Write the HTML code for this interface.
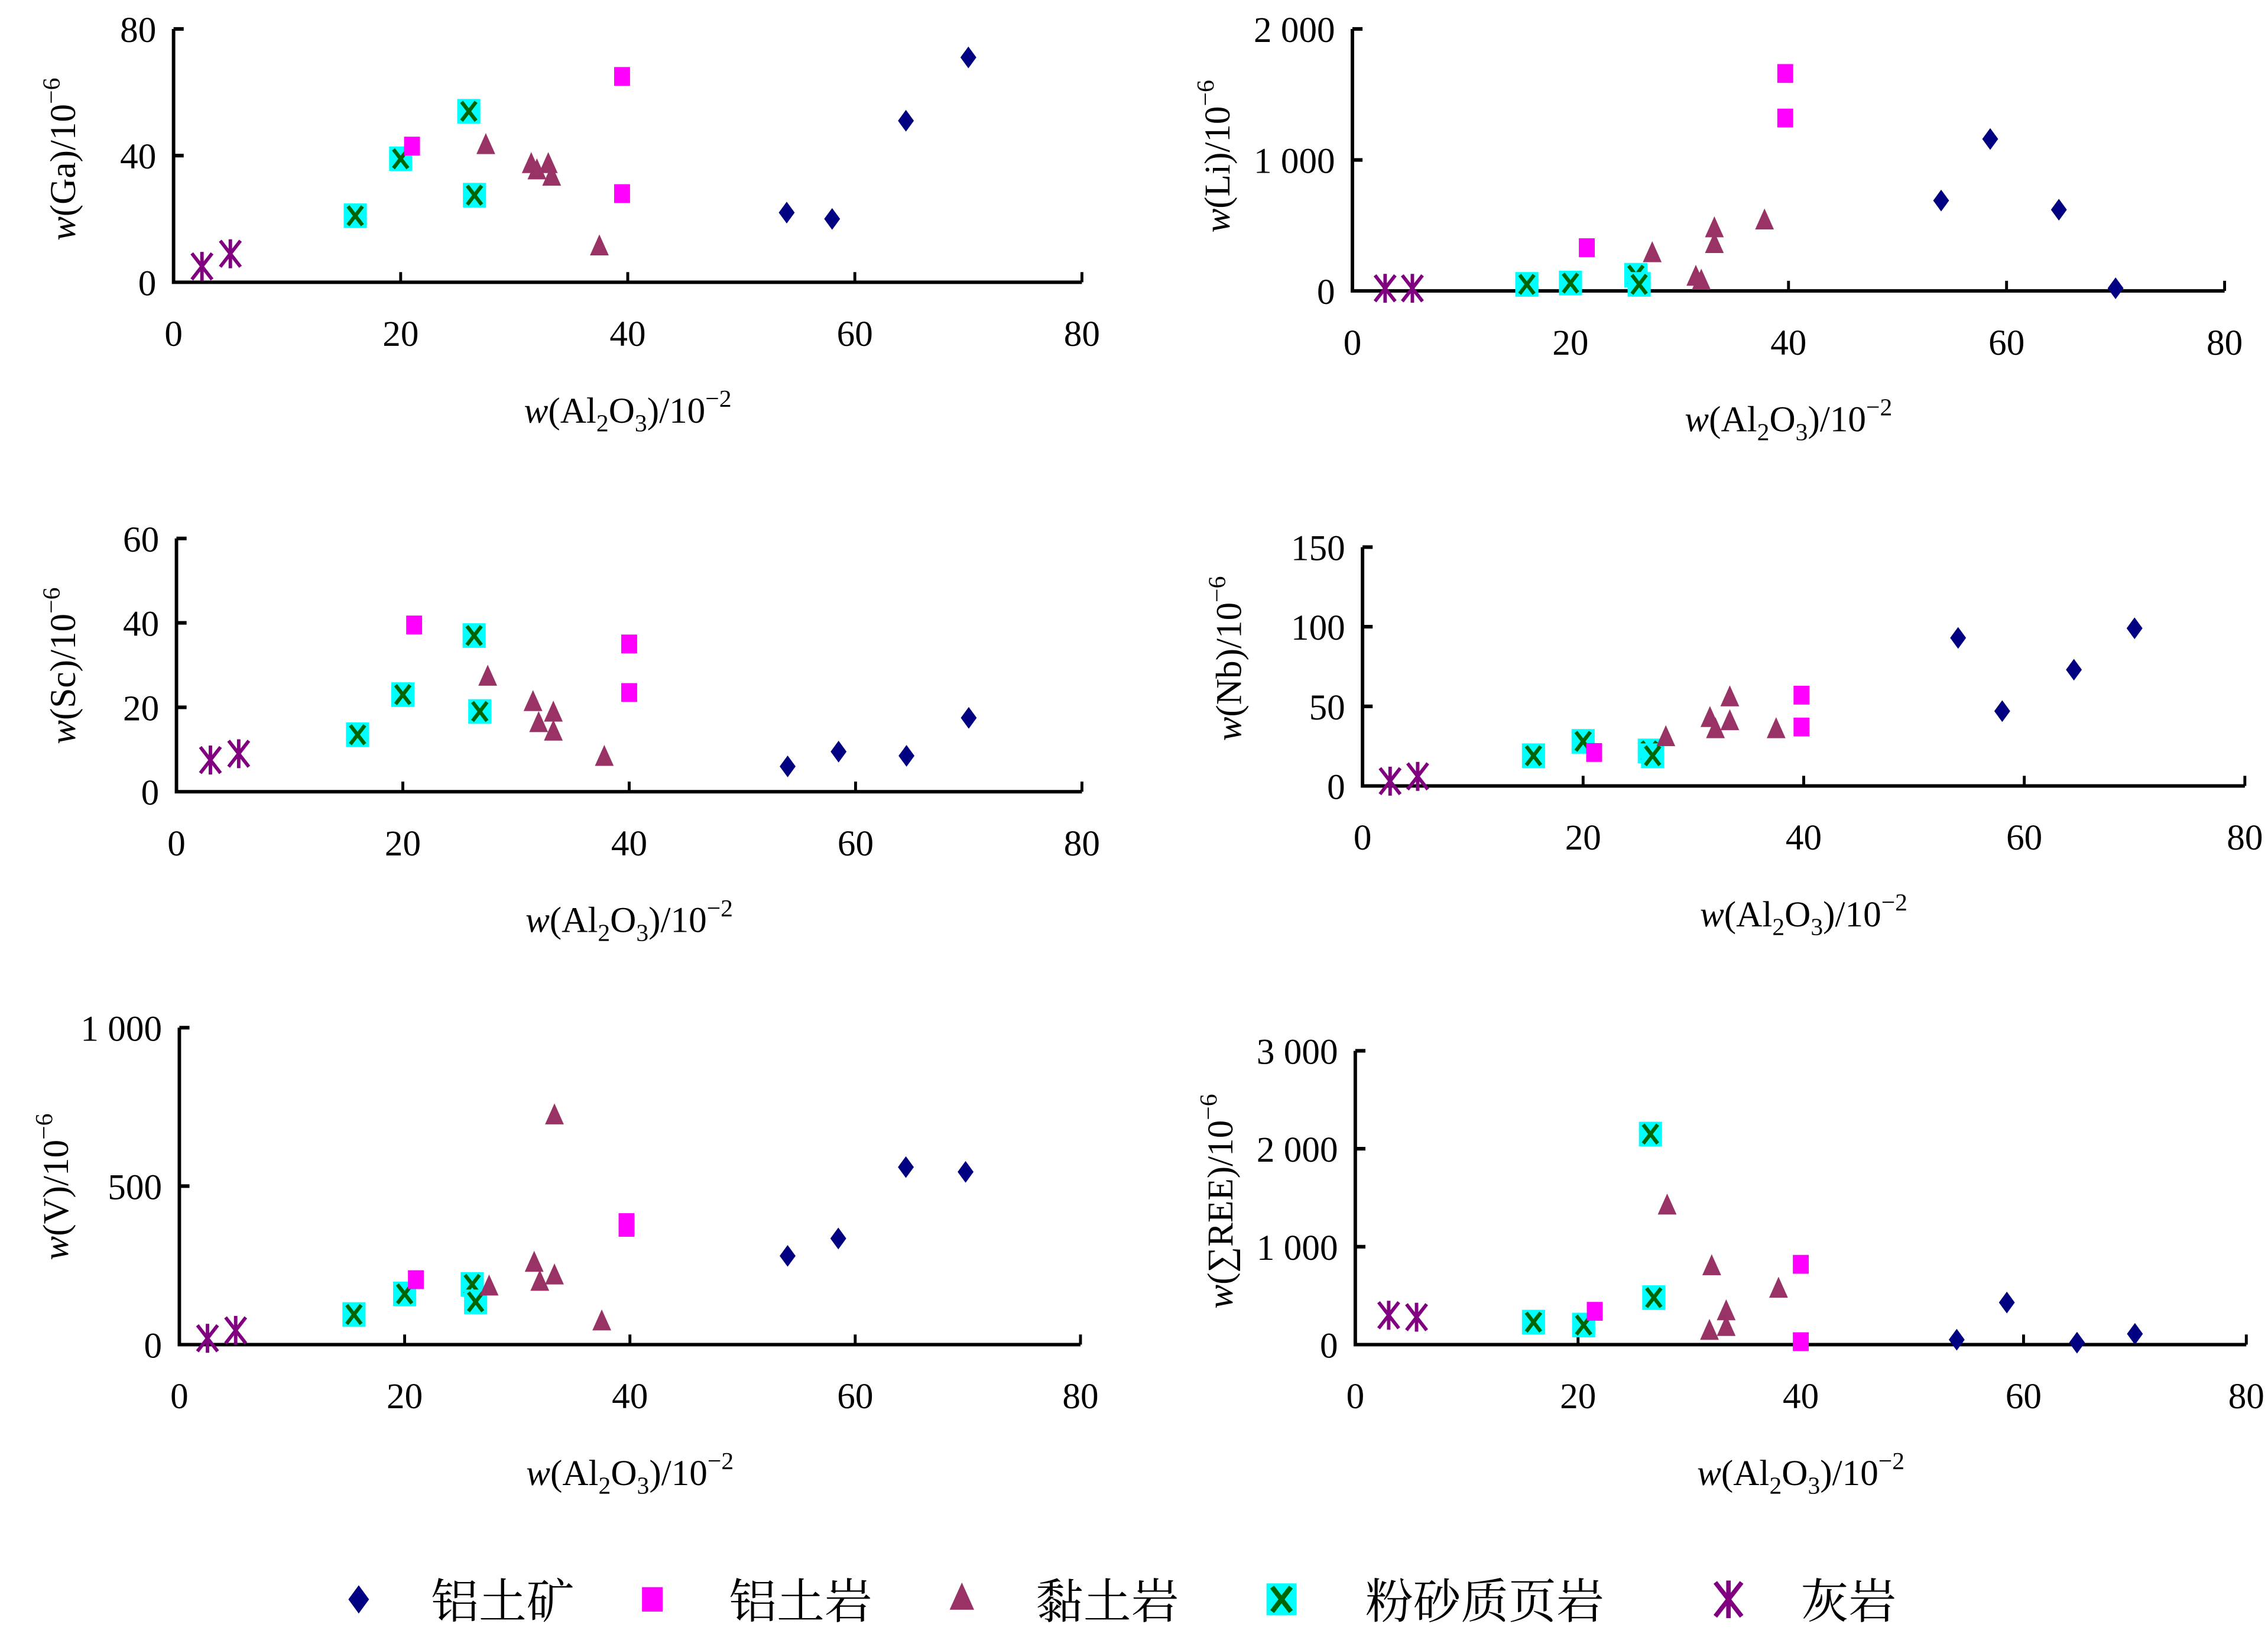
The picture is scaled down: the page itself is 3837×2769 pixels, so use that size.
<!DOCTYPE html>
<html><head><meta charset="utf-8">
<style>
html,body{margin:0;padding:0;background:#fff;}
svg{display:block;}
text{font-family:"Liberation Serif","Noto Serif CJK SC",serif;fill:#000;}
</style></head>
<body>
<svg id="chart" width="3837" height="2769" viewBox="0 0 1568 1131" preserveAspectRatio="none" xmlns="http://www.w3.org/2000/svg"></svg>
<script>
const groupNames = ["铝土矿","铝土岩","黏土岩","粉砂质页岩","灰岩"];
const xTicks = [0,20,40,60,80];

const gaX_bauxite=[54,58,64.5,70], gaY_bauxite=[22,20,51,71];
const gaX_rock=[21,39.5,39.5], gaY_rock=[43,65,28];
const gaX_clay=[27.5,31.5,32,33,33.3,37.5], gaY_clay=[43,37,35,37,33,11];
const gaX_shale=[16,20,26,26.5], gaY_shale=[21,39,54,27.5];
const gaX_lime=[2.5,5], gaY_lime=[5,9];
const gaTicks=[0,40,80], gaTickLabels=["0","40","80"];

const liX_bauxite=[54,58.5,64.8,70], liY_bauxite=[690,1160,620,20];
const liX_rock=[21.5,39.7,39.7], liY_rock=[330,1660,1320];
const liX_clay=[27.5,31.5,32,33.2,33.2,37.8], liY_clay=[280,100,70,470,350,530];
const liX_shale=[16,20,26,26.3], liY_shale=[50,60,120,50];
const liX_lime=[3,5.5], liY_lime=[20,20];
const liTicks=[0,1000,2000], liTickLabels=["0","1 000","2 000"];

const scX_bauxite=[54,58.5,64.5,70], scY_bauxite=[6,9.5,8.5,17.5];
const scX_rock=[21,40,40], scY_rock=[39.5,35,23.5];
const scX_clay=[27.5,31.5,32,33.3,33.3,37.8], scY_clay=[27,21,16,18.5,14,8];
const scX_shale=[16,20,26.3,26.8], scY_shale=[13.5,23,37,19];
const scX_lime=[3,5.5], scY_lime=[7.5,9];
const scTicks=[0,20,40,60], scTickLabels=["0","20","40","60"];

const nbX_bauxite=[54,58,64.5,70], nbY_bauxite=[93,47,73,99];
const nbX_rock=[21,39.8,39.8], nbY_rock=[21,57,37];
const nbX_clay=[27.5,31.5,32,33.3,33.3,37.5], nbY_clay=[30,42,35,55,40,35];
const nbX_shale=[15.5,20,26,26.3], nbY_shale=[19,28,22,19];
const nbX_lime=[2.5,5], nbY_lime=[3,6];
const nbTicks=[0,50,100,150], nbTickLabels=["0","50","100","150"];

const vX_bauxite=[54,58.5,64.5,69.8], vY_bauxite=[280,335,560,545];
const vX_rock=[21,39.7,39.7], vY_rock=[205,385,370];
const vX_clay=[27.5,31.5,32,33.3,33.3,37.5], vY_clay=[180,255,195,720,215,70];
const vX_shale=[15.5,20,26,26.3], vY_shale=[95,160,190,135];
const vX_lime=[2.5,5], vY_lime=[20,45];
const vTicks=[0,500,1000], vTickLabels=["0","500","1 000"];

const reeX_bauxite=[54,58.5,64.8,70], reeY_bauxite=[50,430,20,110];
const reeX_rock=[21.5,40,40], reeY_rock=[340,820,30];
const reeX_clay=[28,32,31.8,33.3,33.3,38], reeY_clay=[1410,790,130,330,170,560];
const reeX_shale=[16,20.5,26.5,26.8], reeY_shale=[230,200,2150,480];
const reeX_lime=[3,5.5], reeY_lime=[300,280];
const reeTicks=[0,1000,2000,3000], reeTickLabels=["0","1 000","2 000","3 000"];

const NS="http://www.w3.org/2000/svg";
const svg=document.getElementById('chart');
function mk(tag,attrs,parent){const e=document.createElementNS(NS,tag);for(const k in attrs)e.setAttribute(k,attrs[k]);(parent||svg).appendChild(e);return e;}

function marker(g,type,cx,cy){
  let e;
  if(type==='bauxite'){
    e=mk('polygon',{points:`${cx},${cy-7.5} ${cx+5.5},${cy} ${cx},${cy+7.5} ${cx-5.5},${cy}`,fill:'#000080'},g);
  }else if(type==='rock'){
    e=mk('rect',{x:cx-5.5,y:cy-6.5,width:11,height:13,fill:'#ff00ff'},g);
  }else if(type==='clay'){
    e=mk('polygon',{points:`${cx},${cy-9} ${cx+6.5},${cy+5.5} ${cx-6.5},${cy+5.5}`,fill:'#993366'},g);
  }else if(type==='shale'){
    e=mk('g',{},g);
    mk('rect',{x:cx-8,y:cy-8.5,width:16,height:17,fill:'#00ffff'},e);
    mk('path',{d:`M${cx-5},${cy-6.5}L${cx+5},${cy+6.5}M${cx+5},${cy-6.5}L${cx-5},${cy+6.5}`,stroke:'#006400','stroke-width':2.6,fill:'none'},e);
  }else{
    e=mk('path',{d:`M${cx},${cy-10}L${cx},${cy+10}M${cx-7},${cy-9}L${cx+7},${cy+9}M${cx+7},${cy-9}L${cx-7},${cy+9}`,stroke:'#800080','stroke-width':2.4,fill:'none'},g);
  }
  return e;
}

function panel(o){
  const g=mk('g',{});
  
  
  const sx=v=>o.x0+(o.x1-o.x0)*v/80;
  const sy=v=>o.y0-(o.y0-o.y1)*v/o.ymax;
  const ax=mk('path',{d:`M${o.x0},${o.y1}L${o.x0},${o.y0}L${o.x1},${o.y0}`,stroke:'#000','stroke-width':2.4,fill:'none'},g);
  
  
  xTicks.forEach(t=>{
    if(t>0) mk('line',{x1:sx(t),x2:sx(t),y1:o.y0,y2:o.y0-7,stroke:'#000','stroke-width':2},g);
    const tx=mk('text',{x:sx(t),y:o.y0+44,'text-anchor':'middle','font-size':25},g);
    tx.textContent=t;
    
    
  });
  o.ticks.forEach((t,i)=>{
    if(t>0) mk('line',{x1:o.x0,x2:o.x0+7,y1:sy(t),y2:sy(t),stroke:'#000','stroke-width':2.5},g);
    const tx=mk('text',{x:o.x0-12,y:sy(t)+9,'text-anchor':'end','font-size':25},g);
    tx.textContent=o.labels[i];
    
    
  });
  const xt=mk('text',{x:(o.x0+o.x1)/2,y:o.y0+97,'text-anchor':'middle','font-size':25},g);
  xt.innerHTML='<tspan font-style="italic">w</tspan>(Al<tspan font-size="17" dy="6">2</tspan><tspan dy="-6">O</tspan><tspan font-size="17" dy="6">3</tspan><tspan dy="-6">)/10</tspan><tspan font-size="17" dy="-11">−2</tspan>';
  
  
  const yt=mk('text',{x:0,y:0,'text-anchor':'middle','font-size':25,transform:`translate(${o.tx},${o.ty}) rotate(-90)`},g);
  yt.innerHTML='<tspan font-style="italic">w</tspan>('+o.el+')/10<tspan font-size="17" dy="-11">−6</tspan>';
  
  
  const types=['lime','shale','rock','clay','bauxite'];
  types.forEach(tp=>{
    const xs=o.data[tp][0], ys=o.data[tp][1];
    xs.forEach((xv,i)=>{
      const m=marker(g,tp,sx(xv),sy(ys[i]));
      
      
    });
  });
}

panel({name:'panel-ga',x0:120,x1:748,y0:195,y1:20,ymax:80,ticks:gaTicks,labels:gaTickLabels,el:'Ga',tx:52,ty:110,
 data:{bauxite:[gaX_bauxite,gaY_bauxite],rock:[gaX_rock,gaY_rock],clay:[gaX_clay,gaY_clay],shale:[gaX_shale,gaY_shale],lime:[gaX_lime,gaY_lime]}});
panel({name:'panel-li',x0:935,x1:1538,y0:201,y1:20,ymax:2000,ticks:liTicks,labels:liTickLabels,el:'Li',tx:850,ty:108,
 data:{bauxite:[liX_bauxite,liY_bauxite],rock:[liX_rock,liY_rock],clay:[liX_clay,liY_clay],shale:[liX_shale,liY_shale],lime:[liX_lime,liY_lime]}});
panel({name:'panel-sc',x0:122,x1:748,y0:547,y1:372,ymax:60,ticks:scTicks,labels:scTickLabels,el:'Sc',tx:52,ty:460,
 data:{bauxite:[scX_bauxite,scY_bauxite],rock:[scX_rock,scY_rock],clay:[scX_clay,scY_clay],shale:[scX_shale,scY_shale],lime:[scX_lime,scY_lime]}});
panel({name:'panel-nb',x0:942,x1:1552,y0:543,y1:378,ymax:150,ticks:nbTicks,labels:nbTickLabels,el:'Nb',tx:858,ty:455,
 data:{bauxite:[nbX_bauxite,nbY_bauxite],rock:[nbX_rock,nbY_rock],clay:[nbX_clay,nbY_clay],shale:[nbX_shale,nbY_shale],lime:[nbX_lime,nbY_lime]}});
panel({name:'panel-v',x0:124,x1:747,y0:929,y1:710,ymax:1000,ticks:vTicks,labels:vTickLabels,el:'V',tx:47,ty:820,
 data:{bauxite:[vX_bauxite,vY_bauxite],rock:[vX_rock,vY_rock],clay:[vX_clay,vY_clay],shale:[vX_shale,vY_shale],lime:[vX_lime,vY_lime]}});
panel({name:'panel-ree',x0:937,x1:1553,y0:929,y1:726,ymax:3000,ticks:reeTicks,labels:reeTickLabels,el:'∑REE',tx:852,ty:830,
 data:{bauxite:[reeX_bauxite,reeY_bauxite],rock:[reeX_rock,reeY_rock],clay:[reeX_clay,reeY_clay],shale:[reeX_shale,reeY_shale],lime:[reeX_lime,reeY_lime]}});

const lg=mk('g',{});


const legTypes=['bauxite','rock','clay','shale','lime'];
const legMx=[248,451,665,886,1195], legTx=[298,504,716,944,1245];
legTypes.forEach((tp,i)=>{
  const m=mk('g',{transform:`translate(${legMx[i]},1105) scale(1.3)`},lg);
  marker(m,tp,0,0);
  
  
  const t=mk('text',{x:legTx[i],y:1118,'font-size':33},lg);
  t.textContent=groupNames[i];
  
  
});
</script>
</body></html>
